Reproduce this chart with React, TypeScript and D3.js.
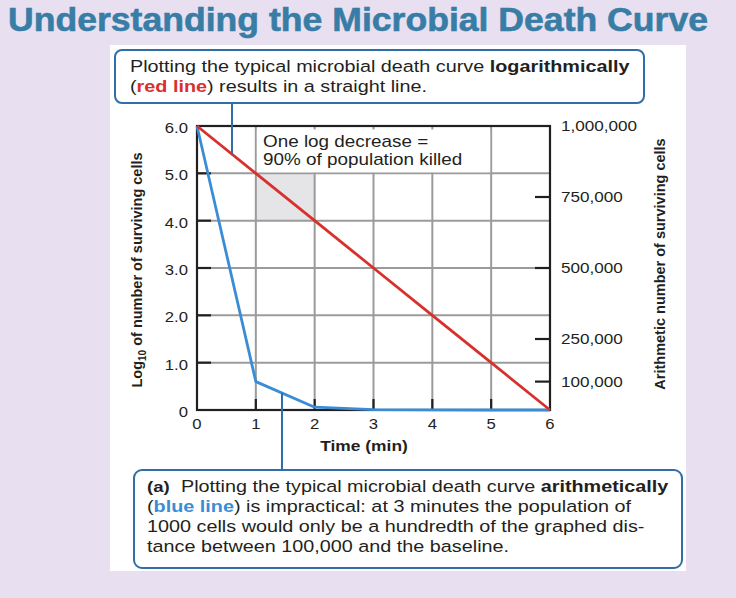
import React from 'react';
import * as d3 from 'd3';

const timeMin = [0, 1, 2, 3, 4, 5, 6];
const logValues = [6, 5, 4, 3, 2, 1, 0];
const arithValues = [1000000, 100000, 10000, 1000, 100, 10, 1];
const xTicks = [0, 1, 2, 3, 4, 5, 6];
const yTicks = [0, 1, 2, 3, 4, 5, 6];
const yTickLabels = ['0', '1.0', '2.0', '3.0', '4.0', '5.0', '6.0'];
const rightTicks = [100000, 250000, 500000, 750000, 1000000];
const rightTickLabels = ['100,000', '250,000', '500,000', '750,000', '1,000,000'];
const shadeX = [1, 2];
const shadeY = [4, 5];
const noteX = [1, 5];

const FONT = "'Liberation Sans', Arial, Helvetica, sans-serif";
const SX = 1.2;
const INK = '#231f20';
const RED = '#d8302d';
const BLUE = '#3a8dd5';
const BOX = '#2f6ea8';
const GRID = '#9b9b9b';

function T(props: any) {
  const { x, y, anchor = 'start', size = 16.5, weight = 'normal', fill = INK, sx = SX, children, ...rest } = props;
  return (
    <text
      transform={`translate(${x},${y}) scale(${sx},1)`}
      textAnchor={anchor}
      fontSize={size}
      fontWeight={weight}
      fill={fill}
      fontFamily={FONT}
      {...rest}
    >
      {children}
    </text>
  );
}

export default function App() {
  const x = d3.scaleLinear().domain([0, 6]).range([197, 550]);
  const y = d3.scaleLinear().domain([0, 6]).range([410, 126]);
  const yR = d3.scaleLinear().domain([0, 1000000]).range([410, 126]);

  const redLine = d3.line<number>().x((_, i) => x(timeMin[i])).y((d) => y(d))(logValues) as string;
  const blueLine = d3.line<number>().x((_, i) => x(timeMin[i])).y((d) => yR(d))(arithValues) as string;

  const topConnX = 232;
  const topT = x.invert(topConnX);
  const topEndY = y(d3.scaleLinear().domain(timeMin).range(logValues)(topT));
  const botConnX = 282;
  const botT = x.invert(botConnX);
  const botEndY = yR(d3.scaleLinear().domain(timeMin).range(arithValues)(botT));

  const [x0, x1] = x.range();
  const [yb, yt] = y.range();

  return (
    <svg width={736} height={598} style={{ position: 'absolute', left: 0, top: 0, display: 'block' }}>
      <rect x={0} y={0} width={736} height={598} fill="#e8e0f1" />
      <T x={8} y={31} size={33} weight="bold" fill="#377da6" sx={1} textLength={700} lengthAdjust="spacingAndGlyphs" stroke="#377da6" strokeWidth={0.6}>
        Understanding the Microbial Death Curve
      </T>
      <rect x={110} y={45} width={576} height={526} fill="#ffffff" />

      {/* shaded one-log region */}
      <rect x={x(shadeX[0])} y={y(shadeY[1])} width={x(shadeX[1]) - x(shadeX[0])} height={y(shadeY[0]) - y(shadeY[1])} fill="#e5e5e8" />

      {/* grid */}
      {xTicks.slice(1, -1).map((t) => (
        <line key={'gx' + t} x1={x(t)} x2={x(t)} y1={yb} y2={yt} stroke={GRID} strokeWidth={2} />
      ))}
      {yTicks.slice(1, -1).map((t) => (
        <line key={'gy' + t} x1={x0} x2={x1} y1={y(t)} y2={y(t)} stroke={GRID} strokeWidth={2} />
      ))}

      {/* note box inside plot */}
      <rect x={x(noteX[0]) + 1} y={yt + 3.5} width={x(noteX[1]) - x(noteX[0]) - 2} height={y(5) - yt - 4.5} fill="#ffffff" />
      <T x={263} y={147} size={16} sx={1.18}>One log decrease =</T>
      <T x={263} y={165} size={16} sx={1.18}>90% of population killed</T>

      {/* ticks */}
      {yTicks.slice(1, -1).map((t) => (
        <line key={'ty' + t} x1={x0} x2={x0 + 14} y1={y(t)} y2={y(t)} stroke={INK} strokeWidth={2.2} />
      ))}
      {xTicks.slice(1, -1).map((t) => (
        <line key={'tx' + t} x1={x(t)} x2={x(t)} y1={yb} y2={yb - 11} stroke={INK} strokeWidth={2.2} />
      ))}
      {rightTicks.slice(0, -1).map((t) => (
        <line key={'tr' + t} x1={x1 - 15} x2={x1} y1={yR(t)} y2={yR(t)} stroke={INK} strokeWidth={2.2} />
      ))}

      {/* frame */}
      <rect x={x0} y={yt} width={x1 - x0} height={yb - yt} fill="none" stroke={INK} strokeWidth={2.2} />

      {/* data lines */}
      <path d={blueLine} fill="none" stroke={BLUE} strokeWidth={2.8} strokeLinejoin="round" />
      <path d={redLine} fill="none" stroke={RED} strokeWidth={2.8} />

      {/* tick labels */}
      {yTicks.map((t, i) => (
        <T key={'ly' + t} x={188} y={y(t) + 7} anchor="end" size={14.5} sx={1.15}>{yTickLabels[i]}</T>
      ))}
      {xTicks.map((t) => (
        <T key={'lx' + t} x={x(t)} y={429} anchor="middle" size={14.5} sx={1.15}>{String(t)}</T>
      ))}
      {rightTicks.map((t, i) => (
        <T key={'lr' + t} x={561} y={yR(t) + 5} size={14.5} sx={1.18}>{rightTickLabels[i]}</T>
      ))}

      {/* axis titles */}
      <T x={364} y={451} anchor="middle" size={14.5} weight="bold" sx={1.2}>Time (min)</T>
      <text transform={`translate(142,270) rotate(-90)`} textAnchor="middle" fontSize={14.5} fontWeight="bold" fill={INK} fontFamily={FONT}>
        Log<tspan fontSize={10} dy={4}>10</tspan><tspan dy={-4}> of number of surviving cells</tspan>
      </text>
      <text transform={`translate(665,264) rotate(-90)`} textAnchor="middle" fontSize={14.5} fontWeight="bold" fill={INK} fontFamily={FONT}>
        Arithmetic number of surviving cells
      </text>

      {/* top callout */}
      <line x1={topConnX} x2={topConnX} y1={103} y2={topEndY} stroke={BOX} strokeWidth={2} />
      <rect x={115} y={50} width={529} height={53} rx={7} fill="#ffffff" stroke={BOX} strokeWidth={2} />
      <T x={130} y={72}>
        Plotting the typical microbial death curve <tspan fontWeight="bold">logarithmically</tspan>
      </T>
      <T x={130} y={92}>
        (<tspan fontWeight="bold" fill={RED}>red line</tspan>) results in a straight line.
      </T>

      {/* bottom callout */}
      <line x1={botConnX} x2={botConnX} y1={botEndY} y2={470} stroke={BOX} strokeWidth={2} />
      <rect x={134} y={470} width={548} height={98} rx={8} fill="#ffffff" stroke={BOX} strokeWidth={2} />
      <T x={147} y={492}>
        <tspan fontWeight="bold" fontSize={15.5}>(a)</tspan>
        <tspan x={28.3}>Plotting the typical microbial death curve </tspan>
        <tspan fontWeight="bold">arithmetically</tspan>
      </T>
      <T x={147} y={512}>
        (<tspan fontWeight="bold" fill={BLUE}>blue line</tspan>) is impractical: at 3 minutes the population of
      </T>
      <T x={147} y={532}>1000 cells would only be a hundredth of the graphed dis-</T>
      <T x={147} y={552}>tance between 100,000 and the baseline.</T>
    </svg>
  );
}
